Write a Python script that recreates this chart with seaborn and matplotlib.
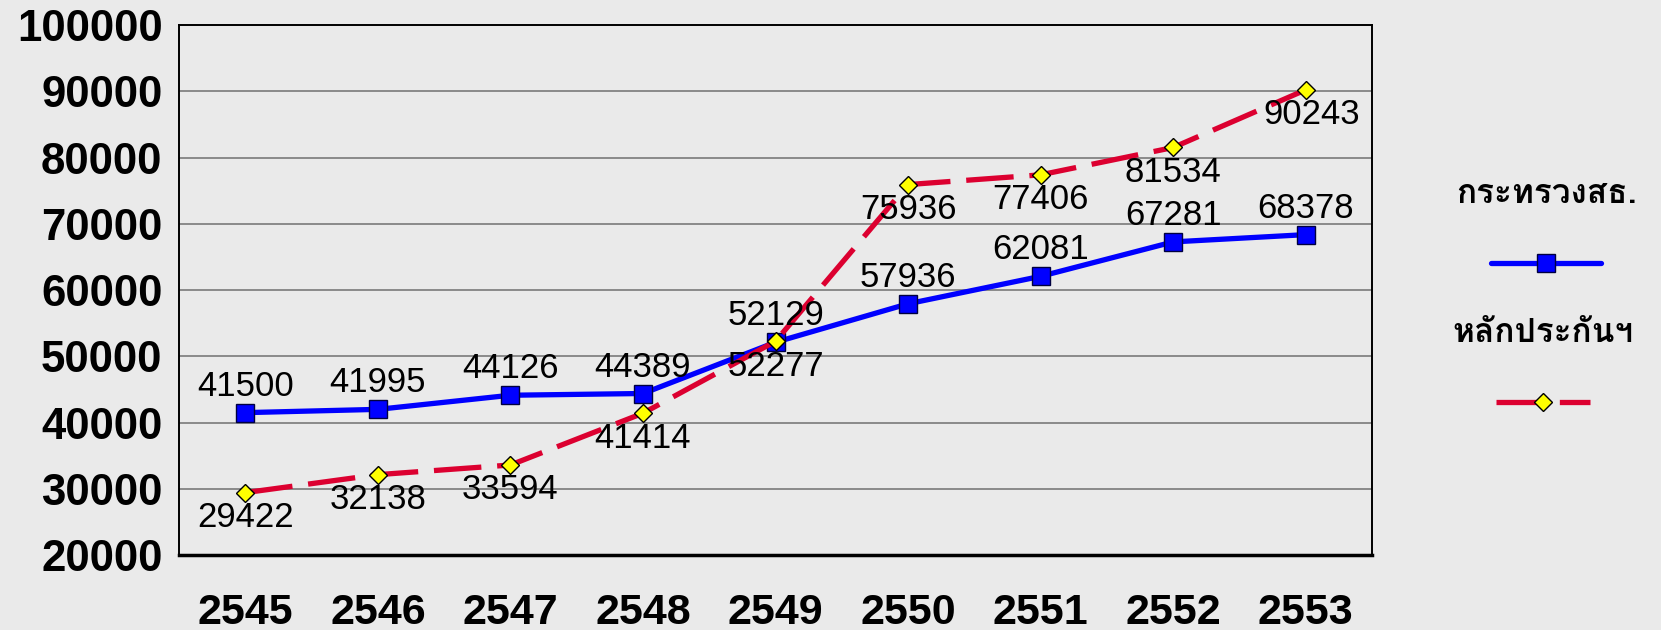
import numpy as np
import pandas as pd
import matplotlib
matplotlib.use("Agg")
import matplotlib.pyplot as plt
import seaborn as sns
from matplotlib import font_manager
from matplotlib.ft2font import FT2Font

YEARS = ["2545", "2546", "2547", "2548", "2549", "2550", "2551", "2552", "2553"]
MOPH = [41500, 41995, 44126, 44389, 52129, 57936, 62081, 67281, 68378]
UC = [29422, 32138, 33594, 41414, 52277, 75936, 77406, 81534, 90243]
SERIES_NAMES = ["กระทรวงสธ.", "หลักประกันฯ"]
Y_TICKS = [20000, 30000, 40000, 50000, 60000, 70000, 80000, 90000, 100000]

BG = "#EAEAEA"
BLUE = "#0000FF"
RED = "#DC0030"


def find_thai_font():
    """First installed family that has Thai glyphs."""
    for f in font_manager.fontManager.ttflist:
        try:
            if 0x0E01 in FT2Font(f.fname).get_charmap():
                return f.name
        except Exception:
            pass
    return "DejaVu Sans"


sns.set_style("white", {"axes.facecolor": BG, "figure.facecolor": BG,
                        "text.color": "black", "xtick.color": "black",
                        "ytick.color": "black"})
plt.rcParams["font.family"] = ["Liberation Sans", "DejaVu Sans"]
thai_font = find_thai_font()

df = pd.DataFrame({"idx": np.arange(len(YEARS)), "moph": MOPH, "uc": UC})

fig = plt.figure(figsize=(16.61, 6.30), dpi=100)
ax = fig.add_axes([0.1078, 0.119, 0.7182, 0.841])

for y in Y_TICKS[1:-1]:
    ax.axhline(y, color="#7A7A7A", lw=1.2, zorder=0)

sns.lineplot(data=df, x="idx", y="moph", ax=ax, color=BLUE, lw=3.8,
             marker="s", markersize=13, markerfacecolor=BLUE,
             markeredgecolor="#000040", markeredgewidth=1, zorder=3)
sns.lineplot(data=df, x="idx", y="uc", ax=ax, color=RED, lw=3.8,
             marker="D", markersize=9, markerfacecolor="#FFFF00",
             markeredgecolor="black", markeredgewidth=1, zorder=4)
ax.lines[-1].set_dashes([9, 3])

# data labels: blue above, red below
for i, v in enumerate(MOPH):
    ax.annotate(str(v), (i, v), xytext=(0, 19), textcoords="offset points",
                ha="center", va="center", fontsize=25, color="black", zorder=6)
for i, v in enumerate(UC):
    ax.annotate(str(v), (i, v), xytext=(4 if i == 8 else 0, -18),
                textcoords="offset points", ha="center", va="center",
                fontsize=25, color="black", zorder=6)

ax.set_xlim(-0.5, len(YEARS) - 0.5)
ax.set_ylim(Y_TICKS[0], Y_TICKS[-1])
ax.set_xticks(range(len(YEARS)))
ax.set_xticklabels(YEARS)
ax.set_yticks(Y_TICKS)
ax.set_xlabel("")
ax.set_ylabel("")
ax.tick_params(axis="y", length=0, pad=12, labelsize=31.5, labelcolor="black")
ax.tick_params(axis="x", length=0, pad=27, labelsize=31, labelcolor="black")
for lab in ax.get_xticklabels() + ax.get_yticklabels():
    lab.set_fontweight("bold")

for side in ["left", "top", "right"]:
    ax.spines[side].set_color("black")
    ax.spines[side].set_linewidth(1.4)
ax.spines["bottom"].set_color("black")
ax.spines["bottom"].set_linewidth(2.5)

# legend: one small legend per series, name as title above the key
anchors = [(0.931, 0.634), (0.929, 0.413)]
lengths = [3.3, 2.8]
for line, name, anchor, hl in zip(ax.lines[-2:], SERIES_NAMES, anchors, lengths):
    leg = fig.legend(handles=[line], labels=[""], loc="center",
                     bbox_to_anchor=anchor, frameon=False, handlelength=hl,
                     handletextpad=0, labelspacing=1.25, borderpad=0,
                     title=name, fontsize=24,
                     title_fontproperties={"family": thai_font,
                                           "weight": "bold", "size": 24})
    leg.get_title().set_color("black")

fig.savefig("out.png", dpi=100, facecolor=BG)
